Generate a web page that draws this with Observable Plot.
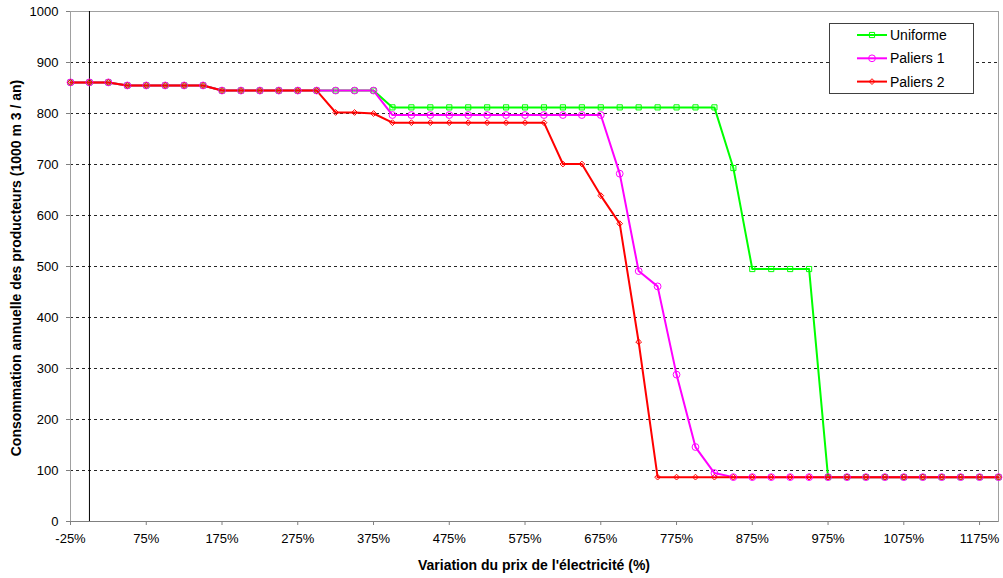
<!DOCTYPE html>
<html><head><meta charset="utf-8">
<script src="https://cdn.jsdelivr.net/npm/d3@7"></script>
<script src="https://cdn.jsdelivr.net/npm/@observablehq/plot@0.6"></script>
<style>
body{margin:0;background:#fff;font-family:"Liberation Sans",Arial,sans-serif;}
#wrap{position:relative;width:1003px;height:578px;overflow:hidden;}
#legend{position:absolute;left:829px;top:23px;width:143px;height:69px;border:1px solid #404040;background:#fff;}
.title{position:absolute;font-weight:bold;font-size:14px;color:#000;white-space:nowrap;}
#xtitle{left:534px;top:557px;transform:translateX(-50%);}
#ytitle{left:16px;top:268px;transform:translate(-50%,-50%) rotate(-90deg);}
</style></head>
<body>
<div id="wrap"></div>
<script>
// ---- data ----
const pct = [-25,0,25,50,75,100,125,150,175,200,225,250,275,300,325,350,375,400,425,450,475,500,525,550,575,600,625,650,675,700,725,750,775,800,825,850,875,900,925,950,975,1000,1025,1050,1075,1100,1125,1150,1175,1200];
const uniforme = [861,861,861,855,855,855,855,855,845,845,845,845,845,845,845,845,845,812,812,812,812,812,812,812,812,812,812,812,812,812,812,812,812,812,812,693,495,495,495,495,87,87,87,87,87,87,87,87,87,87];
const paliers1 = [861,861,861,855,855,855,855,855,845,845,845,845,845,845,845,845,845,797,797,797,797,797,797,797,797,797,797,797,797,682,491,461,288,146,95,87,87,87,87,87,87,87,87,87,87,87,87,87,87,87];
const paliers2 = [861,861,861,855,855,855,855,855,845,845,845,845,845,845,802,802,800,782,782,782,782,782,782,782,782,782,701,701,639,584,352,87,87,87,87,87,87,87,87,87,87,87,87,87,87,87,87,87,87,87];
const seriesNames = ["Uniforme","Paliers 1","Paliers 2"];
const seriesColors = ["#00ff00","#ff00ff","#ff0000"];
const seriesSymbols = ["square","circle","diamond2"];
const seriesR = [2.9,3.4,2.6];
const xTicks = [-25,75,175,275,375,475,575,675,775,875,975,1075,1175];
const yTicks = [0,100,200,300,400,500,600,700,800,900,1000];
const gridTicks = [100,200,300,400,500,600,700,800,900];
const xTitle = "Variation du prix de l'électricité (%)";
const yTitle = "Consommation annuelle des producteurs (1000 m 3 / an)";

// ---- build ----
const allSeries = [uniforme, paliers1, paliers2];
const rows = [];
allSeries.forEach((vals,k)=>vals.forEach((v,i)=>rows.push({series:seriesNames[k], x:pct[i], y:v})));

const dotMarks = seriesNames.map((name,k)=>Plot.dot(rows.filter(d=>d.series===name),{
  x:"x", y:"y", symbol:()=>seriesSymbols[k], stroke:seriesColors[k], fill:"none", r:seriesR[k], strokeWidth:1
}));

const chart = Plot.plot({
  width:1003, height:578,
  marginLeft:70, marginRight:5, marginTop:11, marginBottom:57,
  x:{domain:[-25,1200]},
  y:{domain:[0,1000]},
  symbol:{type:"identity"},
  style:{fontFamily:"'Liberation Sans', Arial, sans-serif", fontSize:"13px", color:"#000", background:"#fff"},
  marks:[
    Plot.ruleY(gridTicks,{stroke:"#000", strokeDasharray:"3,3", strokeWidth:1, strokeOpacity:0.85}),
    Plot.frame({stroke:"#a0a0a0"}),
    Plot.ruleX([0],{stroke:"#000"}),
    Plot.ruleY([0],{stroke:"#808080"}),
    Plot.axisX({ticks:xTicks, tickFormat:d=>d+"%", tickSize:4, tickPadding:8, label:null, stroke:"#808080", fontSize:13}),
    Plot.axisY({ticks:yTicks, tickFormat:d=>String(d), tickSize:4, tickPadding:8, label:null, stroke:"#808080", fontSize:13}),
    ...seriesNames.map((name,k)=>Plot.line(rows.filter(d=>d.series===name),{x:"x", y:"y", stroke:seriesColors[k], strokeWidth:2})),
    ...dotMarks
  ]
});
const wrap = document.getElementById("wrap");
wrap.appendChild(chart);

// axis titles
const xt = document.createElement("div"); xt.className="title"; xt.id="xtitle"; xt.textContent=xTitle; wrap.appendChild(xt);
const yt = document.createElement("div"); yt.className="title"; yt.id="ytitle"; yt.textContent=yTitle; wrap.appendChild(yt);

// legend
const leg = document.createElement("div"); leg.id="legend"; wrap.appendChild(leg);
const ls = d3.select(leg).append("svg").attr("width",143).attr("height",69);
const symMap = {square:d3.symbolSquare, circle:d3.symbolCircle, diamond2:d3.symbolDiamond2};
seriesNames.forEach((name,k)=>{
  const g = ls.append("g").attr("transform",`translate(0,${11+k*23.3})`);
  g.append("line").attr("x1",27).attr("x2",57).attr("y1",0).attr("y2",0).attr("stroke",seriesColors[k]).attr("stroke-width",2);
  g.append("path").attr("transform","translate(42,0)").attr("d",d3.symbol(symMap[seriesSymbols[k]], Math.PI*seriesR[k]*seriesR[k])()).attr("fill","none").attr("stroke",seriesColors[k]);
  g.append("text").attr("x",60).attr("y",0).attr("dy","0.36em").attr("font-size","14px").attr("font-family","'Liberation Sans', Arial, sans-serif").attr("fill","#000").text(name);
});
</script>
</body></html>
